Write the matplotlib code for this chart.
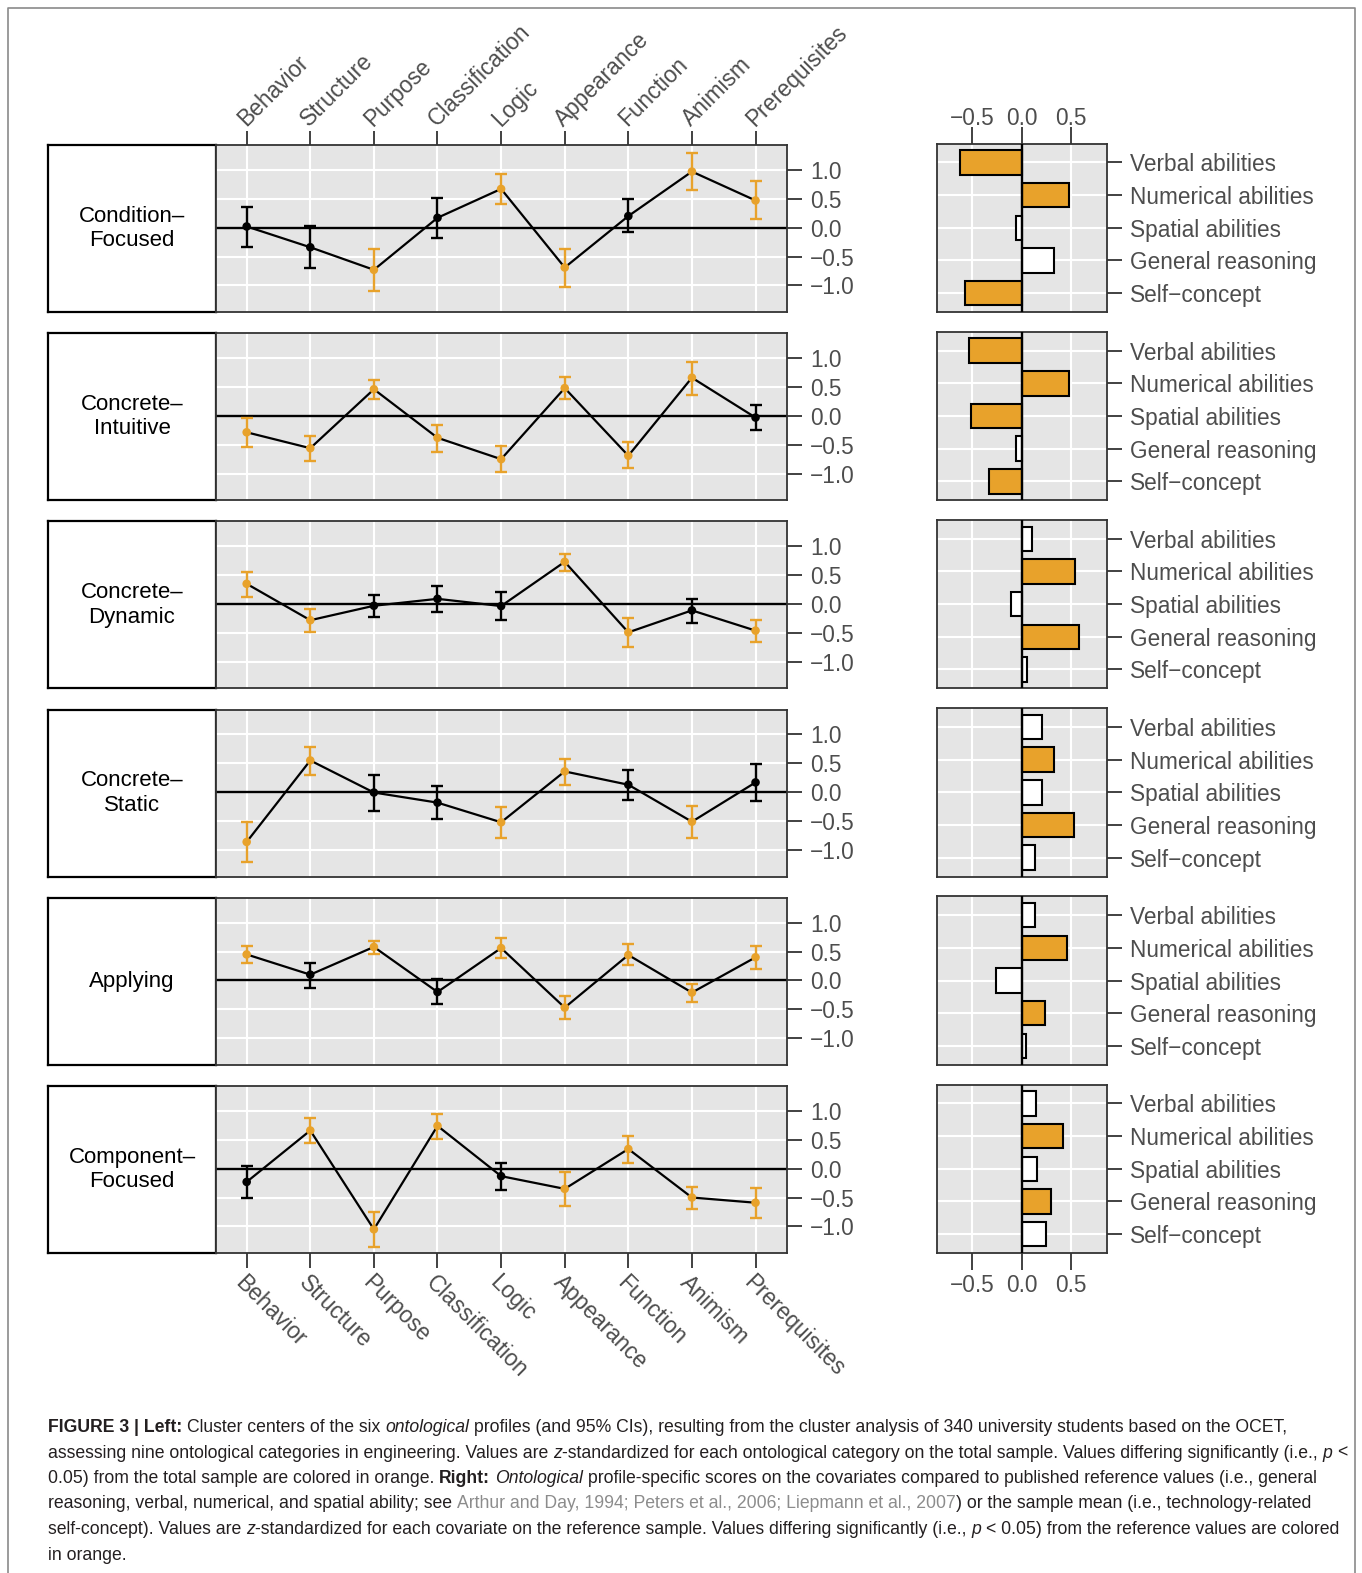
import numpy as np
import matplotlib.pyplot as plt
from matplotlib.transforms import blended_transform_factory, offset_copy

W, H = 1362, 1573
DPI = 100

ORANGE = "#E8A22B"
GREY_BG = "#E5E5E5"
FRAME = "#333333"
TICK_TXT = "#4D4D4D"
FS = 16.3

plt.rcParams["font.family"] = ["Liberation Sans", "DejaVu Sans"]

categories = ["Behavior", "Structure", "Purpose", "Classification", "Logic",
              "Appearance", "Function", "Animism", "Prerequisites"]
profiles = ["Condition\u2013\nFocused", "Concrete\u2013\nIntuitive",
            "Concrete\u2013\nDynamic", "Concrete\u2013\nStatic",
            "Applying", "Component\u2013\nFocused"]

# cluster centres with 95% CI bounds, one row per profile
centers = [
    [0.02, -0.34, -0.73, 0.17, 0.67, -0.69, 0.20, 0.97, 0.47],
    [-0.285, -0.56, 0.46, -0.38, -0.75, 0.48, -0.69, 0.66, -0.03],
    [0.35, -0.28, -0.03, 0.09, -0.035, 0.73, -0.49, -0.11, -0.46],
    [-0.86, 0.55, -0.005, -0.18, -0.52, 0.36, 0.13, -0.51, 0.17],
    [0.45, 0.10, 0.58, -0.20, 0.56, -0.47, 0.44, -0.21, 0.40],
    [-0.23, 0.66, -1.05, 0.74, -0.13, -0.35, 0.34, -0.50, -0.59],
]
ci_low = [
    [-0.33, -0.70, -1.09, -0.18, 0.41, -1.02, -0.08, 0.65, 0.15],
    [-0.535, -0.79, 0.285, -0.62, -0.98, 0.285, -0.91, 0.36, -0.24],
    [0.13, -0.49, -0.23, -0.14, -0.28, 0.57, -0.75, -0.33, -0.65],
    [-1.21, 0.30, -0.32, -0.47, -0.79, 0.13, -0.13, -0.79, -0.15],
    [0.30, -0.13, 0.46, -0.41, 0.38, -0.67, 0.26, -0.37, 0.19],
    [-0.51, 0.44, -1.35, 0.51, -0.37, -0.645, 0.09, -0.70, -0.85],
]
ci_high = [
    [0.36, 0.02, -0.37, 0.51, 0.93, -0.37, 0.49, 1.30, 0.81],
    [-0.03, -0.35, 0.62, -0.16, -0.52, 0.68, -0.46, 0.94, 0.19],
    [0.55, -0.08, 0.16, 0.31, 0.21, 0.87, -0.24, 0.09, -0.27],
    [-0.51, 0.78, 0.30, 0.10, -0.26, 0.58, 0.39, -0.23, 0.48],
    [0.59, 0.30, 0.69, 0.02, 0.73, -0.27, 0.63, -0.06, 0.60],
    [0.04, 0.87, -0.75, 0.95, 0.10, -0.06, 0.57, -0.31, -0.33],
]
center_sig = [
    [0, 0, 1, 0, 1, 1, 0, 1, 1],
    [1, 1, 1, 1, 1, 1, 1, 1, 0],
    [1, 1, 0, 0, 0, 1, 1, 0, 1],
    [1, 1, 0, 0, 1, 1, 0, 1, 0],
    [1, 0, 1, 0, 1, 1, 1, 1, 1],
    [0, 1, 1, 1, 0, 1, 1, 1, 1],
]

covariates = ["Verbal abilities", "Numerical abilities", "Spatial abilities",
              "General reasoning", "Self\u2212concept"]
cov_scores = [
    [-0.62, 0.48, -0.06, 0.33, -0.57],
    [-0.53, 0.48, -0.51, -0.06, -0.33],
    [0.10, 0.54, -0.11, 0.58, 0.05],
    [0.21, 0.33, 0.21, 0.53, 0.13],
    [0.135, 0.46, -0.26, 0.24, 0.04],
    [0.145, 0.42, 0.155, 0.30, 0.25],
]
cov_sig = [
    [1, 1, 0, 0, 1],
    [1, 1, 1, 0, 1],
    [0, 1, 0, 1, 0],
    [0, 1, 0, 1, 0],
    [0, 1, 0, 1, 0],
    [0, 1, 0, 1, 0],
]

fig = plt.figure(figsize=(W / DPI, H / DPI), dpi=DPI)


def px_axes(x0, y0, x1, y1):
    return fig.add_axes([x0 / W, 1 - y1 / H, (x1 - x0) / W, (y1 - y0) / H])


def style_frame(ax):
    ax.set_facecolor(GREY_BG)
    for sp in ax.spines.values():
        sp.set_color(FRAME)
        sp.set_linewidth(1.3)


panel_top = [145 + 188.2 * k for k in range(6)]
panel_h = 167
xs = np.arange(1, len(categories) + 1)
ypos = np.arange(1, len(covariates) + 1)
fmt_tick = lambda v: f"{v:.1f}".replace("-", "\u2212")

for k in range(6):
    top, bot = panel_top[k], panel_top[k] + panel_h

    # strip with the profile name
    strip = px_axes(48.3, top, 215.7, bot)
    strip.set_xticks([])
    strip.set_yticks([])
    for sp in strip.spines.values():
        sp.set_color("black")
        sp.set_linewidth(1.6)
    strip.text(0.5, 0.5, profiles[k], ha="center", va="center",
               fontsize=16, color="black", linespacing=1.2,
               transform=strip.transAxes)

    # profile line with confidence intervals
    ax = px_axes(215.7, top, 786.7, bot)
    style_frame(ax)
    ax.set_xlim(0.513, 9.49)
    ax.set_ylim(-1.46, 1.43)
    ax.set_axisbelow(True)
    yt = [-1.0, -0.5, 0.0, 0.5, 1.0]
    ax.set_yticks(yt)
    ax.set_yticklabels([fmt_tick(v) for v in yt])
    ax.yaxis.tick_right()
    ax.tick_params(axis="y", length=11, width=1.3, color=FRAME, pad=6,
                   labelsize=FS, labelcolor=TICK_TXT)
    ax.set_xticks(xs)
    ax.set_xticklabels([])
    if k == 0:
        ax.xaxis.tick_top()
        ax.tick_params(axis="x", length=10, width=1.3, color=FRAME)
    elif k == 5:
        ax.tick_params(axis="x", length=11, width=1.3, color=FRAME)
    else:
        ax.tick_params(axis="x", length=0)
    ax.grid(color="white", linewidth=1.5)
    ax.axhline(0, color="black", linewidth=1.7, zorder=2)

    c = np.array(centers[k])
    lo = np.array(ci_low[k])
    hi = np.array(ci_high[k])
    cols = [ORANGE if s else "black" for s in center_sig[k]]
    ax.plot(xs, c, color="black", linewidth=1.6, zorder=3)
    for i in range(len(xs)):
        ax.errorbar(xs[i], c[i], yerr=[[c[i] - lo[i]], [hi[i] - c[i]]],
                    fmt="none", ecolor=cols[i], elinewidth=1.7,
                    capsize=4.3, capthick=1.7, zorder=4)
    ax.scatter(xs, c, c=cols, s=38, zorder=5, linewidths=0)

    if k == 0:
        tr = offset_copy(blended_transform_factory(ax.transData, ax.transAxes),
                         fig=fig, x=-1, y=18, units="dots")
        for i, name in enumerate(categories):
            ax.text(xs[i], 1.0, name, transform=tr, rotation=45,
                    rotation_mode="anchor", ha="left", va="baseline",
                    fontsize=FS, color=TICK_TXT)
    if k == 5:
        tr = offset_copy(blended_transform_factory(ax.transData, ax.transAxes),
                         fig=fig, x=-8, y=-26, units="dots")
        for i, name in enumerate(categories):
            ax.text(xs[i], 0.0, name, transform=tr, rotation=-45,
                    rotation_mode="anchor", ha="left", va="center",
                    fontsize=FS, color=TICK_TXT)

    # covariate bars
    bx = px_axes(936.7, top - 1.5, 1106.7, bot)
    style_frame(bx)
    bx.set_xlim(-0.86, 0.86)
    bx.set_ylim(5.58, 0.42)
    bx.set_axisbelow(True)
    bx.set_yticks(ypos)
    bx.set_yticklabels(covariates)
    bx.yaxis.tick_right()
    bx.tick_params(axis="y", length=11, width=1.3, color=FRAME, pad=6,
                   labelsize=FS, labelcolor=TICK_TXT)
    xt = [-0.5, 0.0, 0.5]
    bx.set_xticks(xt)
    if k == 0:
        bx.xaxis.tick_top()
        bx.set_xticklabels([fmt_tick(v) for v in xt])
        bx.tick_params(axis="x", length=12, width=1.3, color=FRAME, pad=-2.5,
                       labelsize=FS, labelcolor=TICK_TXT)
    elif k == 5:
        bx.set_xticklabels([fmt_tick(v) for v in xt])
        bx.tick_params(axis="x", length=12, width=1.3, color=FRAME, pad=3,
                       labelsize=FS, labelcolor=TICK_TXT)
    else:
        bx.set_xticklabels([])
        bx.tick_params(axis="x", length=0)
    bx.grid(color="white", linewidth=1.5)
    bcols = [ORANGE if s else "white" for s in cov_sig[k]]
    bx.barh(ypos, cov_scores[k], height=0.75, color=bcols,
            edgecolor="black", linewidth=1.5, zorder=3)
    bx.axvline(0, color="black", linewidth=1.7, zorder=4)

# outer frame of the figure
frame_ax = fig.add_axes([0, 0, 1, 1], facecolor="none")
frame_ax.set_xlim(0, W)
frame_ax.set_ylim(H, 0)
frame_ax.axis("off")
frame_ax.plot([8, 8, 1355, 1355], [H + 5, 8, 8, H + 5], color="#8a8a8a",
              linewidth=1.2, clip_on=False)

# caption, laid out run by run
cap_family = ["Liberation Sans Narrow", "Liberation Sans"]
cap_size = 12.7
cap_color = "#231F20"
run_styles = {
    "n": dict(family=cap_family, size=cap_size, color=cap_color),
    "b": dict(family=cap_family, size=cap_size, color=cap_color, weight="bold"),
    "i": dict(family=cap_family, size=cap_size, color=cap_color, style="italic"),
    "g": dict(family=cap_family, size=cap_size, color="#8C8C8C"),
}
caption_lines = [
    [("FIGURE 3 | Left:", "b"), (" Cluster centers of the six ", "n"), ("ontological", "i"),
     (" profiles (and 95% CIs), resulting from the cluster analysis of 340 university students based on the OCET,", "n")],
    [("assessing nine ontological categories in engineering. Values are ", "n"), ("z", "i"),
     ("-standardized for each ontological category on the total sample. Values differing significantly (i.e., ", "n"),
     ("p", "i"), (" <", "n")],
    [("0.05) from the total sample are colored in orange. ", "n"), ("Right:", "b"), (" ", "n"),
     ("Ontological", "i"),
     (" profile-specific scores on the covariates compared to published reference values (i.e., general", "n")],
    [("reasoning, verbal, numerical, and spatial ability; see ", "n"),
     ("Arthur and Day, 1994; Peters et al., 2006; Liepmann et al., 2007", "g"),
     (") or the sample mean (i.e., technology-related", "n")],
    [("self-concept). Values are ", "n"), ("z", "i"),
     ("-standardized for each covariate on the reference sample. Values differing significantly (i.e., ", "n"),
     ("p", "i"), (" < 0.05) from the reference values are colored", "n")],
    [("in orange.", "n")],
]

renderer = fig.canvas.get_renderer()


def run_width(s, kw):
    t = fig.text(0, 0, s, **kw)
    w = t.get_window_extent(renderer).width
    t.remove()
    return w


space_w = {key: run_width("x x", kw) - run_width("xx", kw) for key, kw in run_styles.items()}

for j, line in enumerate(caption_lines):
    x = 48.0
    y = 1432 + 25.5 * j
    for s, key in line:
        kw = run_styles[key]
        core = s.strip(" ")
        if not core:
            x += len(s) * space_w[key]
            continue
        x += (len(s) - len(s.lstrip(" "))) * space_w[key]
        t = fig.text(x / W, 1 - y / H, core, ha="left", va="baseline", **kw)
        x += t.get_window_extent(renderer).width
        x += (len(s) - len(s.rstrip(" "))) * space_w[key]

fig.savefig("out.png", dpi=DPI)
